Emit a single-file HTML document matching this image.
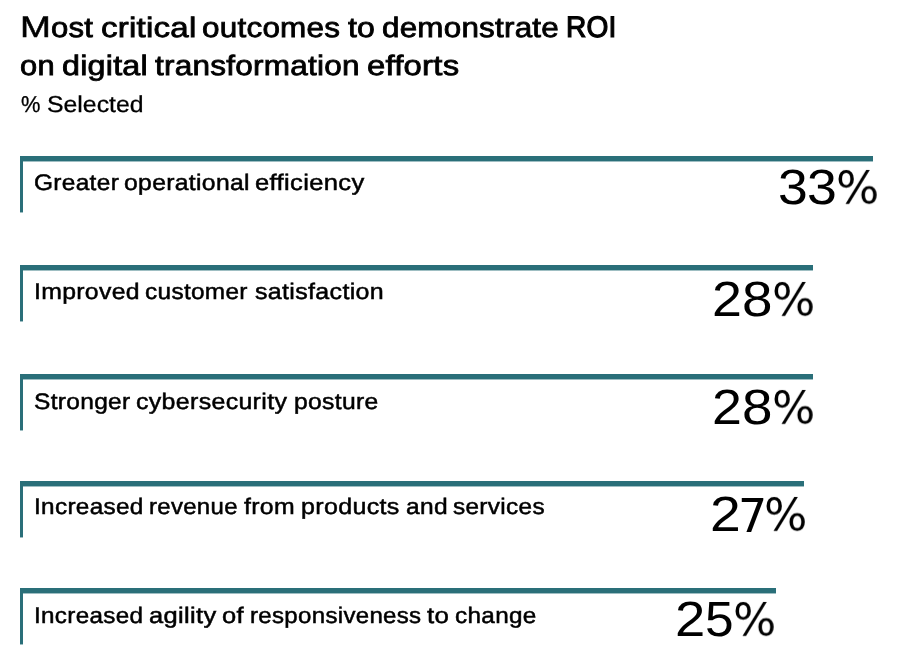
<!DOCTYPE html>
<html><head><meta charset="utf-8">
<style>
html,body{margin:0;padding:0;background:#fff;}
body{width:900px;height:668px;position:relative;overflow:hidden;font-family:"Liberation Sans",Arial,sans-serif;color:#000;}
.t{position:absolute;white-space:nowrap;line-height:1;will-change:transform;}
.title{font-size:28px;font-weight:400;left:0;width:900px;height:34px;letter-spacing:0.2px;-webkit-text-stroke:0.8px #000;text-rendering:geometricPrecision;}
.w{position:absolute;top:0;transform-origin:0 0;}
.sub{font-size:23px;left:0;width:900px;height:26px;-webkit-text-stroke:0.3px #000;text-rendering:geometricPrecision;}
.bar{position:absolute;left:20px;height:6px;background:linear-gradient(#2a6f79 0,#2a6f79 5px,rgba(42,111,121,.45) 5px);}
.side{position:absolute;left:20px;width:3px;background:linear-gradient(#2a6f79 0,#2a6f79 calc(100% - 1px),rgba(42,111,121,.45) calc(100% - 1px));}
.lab{font-size:22.5px;font-weight:400;left:0;width:900px;height:26px;letter-spacing:0.3px;-webkit-text-stroke:0.5px #000;text-rendering:geometricPrecision;}
.num{font-size:49.5px;font-weight:400;text-rendering:geometricPrecision;transform-origin:0 0;}
.p{font-family:"DejaVu Sans",sans-serif;font-size:45.7px;transform-origin:0 0;}
</style></head><body>
<div class="t title" id="t1" style="top:14.1px"><span class="w" style="left:20.25px;transform:scale(1.3263,1.06);transform-origin:0 23.70px;-webkit-text-stroke-width:0.44px">M</span><span class="w" style="left:50.69px;transform:scaleX(1.1108)">ost</span> <span class="w" style="left:100.72px;transform:scaleX(1.1808)">critical</span> <span class="w" style="left:202.38px;transform:scaleX(1.1240)">outcomes</span> <span class="w" style="left:347.70px;transform:scaleX(1.1435)">to</span> <span class="w" style="left:381.58px;transform:scaleX(1.1212)">demonstrate</span> <span class="w" style="left:565.99px;transform:scale(1.0043,1.06);transform-origin:0 23.70px;-webkit-text-stroke-width:1.16px">ROI</span></div>
<div class="t title" id="t2" style="top:51.5px"><span class="w" style="left:20.40px;transform:scaleX(1.1034)">on</span> <span class="w" style="left:62.35px;transform:scaleX(1.1528)">digital</span> <span class="w" style="left:155.10px;transform:scaleX(1.1261)">transformation</span> <span class="w" style="left:367.03px;transform:scaleX(1.1727)">efforts</span></div>
<div class="t sub" id="s1" style="top:93.13px"><span class="w" style="left:21.30px;transform:scaleX(0.9500)">%</span> <span class="w" style="left:46.82px;transform:scaleX(1.0782)">Selected</span></div>

<div class="bar" style="top:156px;width:853px"></div><div class="side" style="top:156px;height:57px"></div>
<div class="t lab" id="l1" style="top:172px"><span class="w" style="left:34.01px;transform:scaleX(1.0857)">Greater</span> <span class="w" style="left:123.80px;transform:scaleX(1.0982)">operational</span> <span class="w" style="left:254.66px;transform:scaleX(1.1368)">efficiency</span></div>
<div class="t num" id="g1a" style="top:162.60px;left:777.58px;transform:scaleX(1.0796)">3</div><div class="t num" id="g1b" style="top:162.60px;left:807.28px;transform:scaleX(1.0839)">3</div><div class="t num p" id="p1" style="top:165.78px;left:835.76px;transform:scale(0.9948,0.9791)">%</div>

<div class="bar" style="top:265px;width:793px"></div><div class="side" style="top:265px;height:57px"></div>
<div class="t lab" id="l2" style="top:281px"><span class="w" style="left:33.60px;transform:scaleX(1.1011)">Improved</span> <span class="w" style="left:144.72px;transform:scaleX(1.0830)">customer</span> <span class="w" style="left:255.30px;transform:scaleX(1.1113)">satisfaction</span></div>
<div class="t num" id="g2a" style="top:274.90px;left:711.85px;transform:scaleX(1.0864)">2</div><div class="t num" id="g2b" style="top:274.90px;left:741.96px;transform:scaleX(1.1071)">8</div><div class="t num p" id="p2" style="top:278.08px;left:771.86px;transform:scale(0.9948,0.9791)">%</div>

<div class="bar" style="top:374px;width:793px"></div><div class="side" style="top:374px;height:57px"></div>
<div class="t lab" id="l3" style="top:391px"><span class="w" style="left:34.01px;transform:scaleX(1.0886)">Stronger</span> <span class="w" style="left:136.19px;transform:scaleX(1.1081)">cybersecurity</span> <span class="w" style="left:294.20px;transform:scaleX(1.0973)">posture</span></div>
<div class="t num" id="g3a" style="top:383.10px;left:711.85px;transform:scaleX(1.0864)">2</div><div class="t num" id="g3b" style="top:383.10px;left:741.96px;transform:scaleX(1.1071)">8</div><div class="t num p" id="p3" style="top:386.28px;left:771.86px;transform:scale(0.9948,0.9791)">%</div>

<div class="bar" style="top:481px;width:784px"></div><div class="side" style="top:481px;height:57px"></div>
<div class="t lab" id="l4" style="top:496px"><span class="w" style="left:33.64px;transform:scaleX(1.0806)">Increased</span> <span class="w" style="left:149.44px;transform:scaleX(1.0642)">revenue</span> <span class="w" style="left:244.10px;transform:scaleX(1.1022)">from</span> <span class="w" style="left:301.29px;transform:scaleX(1.1126)">products</span> <span class="w" style="left:405.51px;transform:scaleX(1.0917)">and</span> <span class="w" style="left:453.30px;transform:scaleX(1.0821)">services</span></div>
<div class="t num" id="g4a" style="top:490.30px;left:709.57px;transform:scaleX(1.1175)">2</div><div class="t num p" id="g4b" style="top:492.52px;left:737.98px;transform:scale(1.0047,1.0206)">7</div><div class="t num p" id="p4" style="top:493.48px;left:763.56px;transform:scale(0.9974,0.9791)">%</div>

<div class="bar" style="top:588px;width:756px"></div><div class="side" style="top:588px;height:57px"></div>
<div class="t lab" id="l5" style="top:605px"><span class="w" style="left:33.94px;transform:scaleX(1.0776)">Increased</span> <span class="w" style="left:148.77px;transform:scaleX(1.1328)">agility</span> <span class="w" style="left:221.57px;transform:scaleX(1.1333)">of</span> <span class="w" style="left:249.73px;transform:scaleX(1.0679)">responsiveness</span> <span class="w" style="left:427.40px;transform:scaleX(1.1500)">to</span> <span class="w" style="left:454.92px;transform:scaleX(1.0797)">change</span></div>
<div class="t num" id="g5a" style="top:594.90px;left:674.61px;transform:scaleX(1.0997)">2</div><div class="t num" id="g5b" style="top:594.90px;left:704.87px;transform:scaleX(1.0383)">5</div><div class="t num p" id="p5" style="top:598.08px;left:732.76px;transform:scale(0.9948,0.9791)">%</div>
</body></html>
